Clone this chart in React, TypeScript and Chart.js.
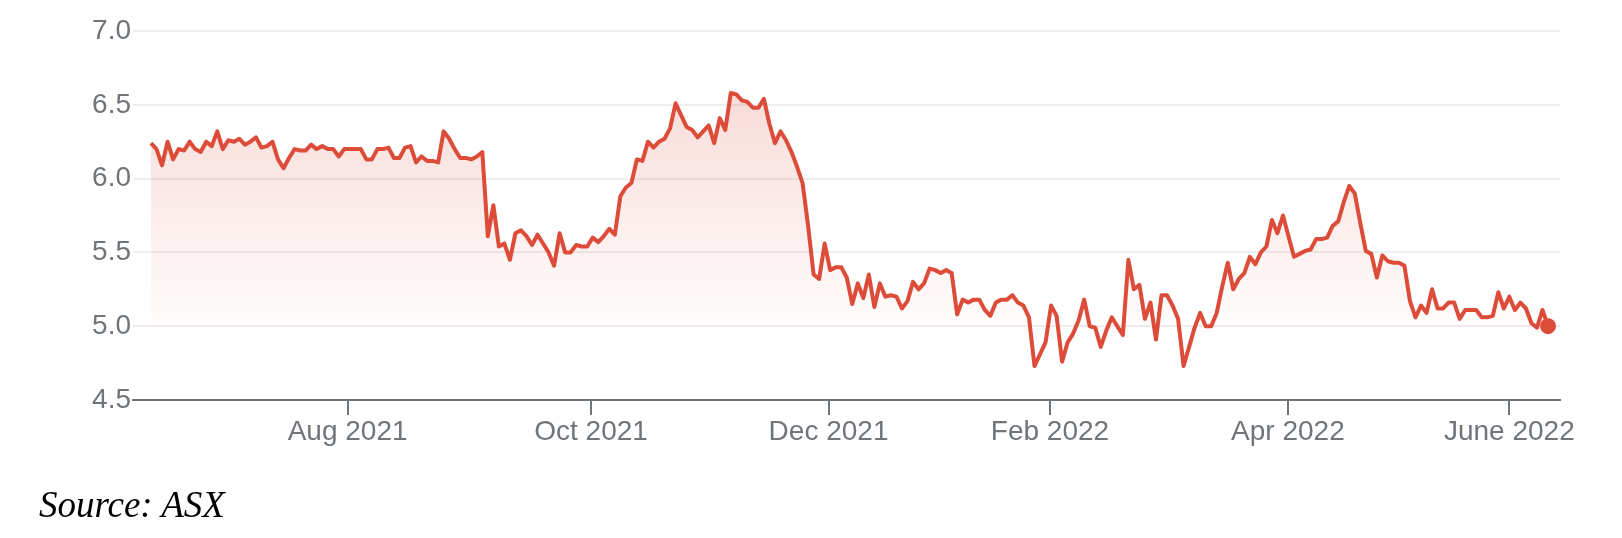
import React, { useEffect, useRef } from "react";
import { Chart, registerables } from "chart.js";

Chart.register(...registerables);

// Daily closing prices (trading days), mid-June 2021 to mid-June 2022
const prices: number[] = [
  6.24, 6.20, 6.09, 6.25, 6.13, 6.20, 6.19, 6.25, 6.20, 6.18,
  6.25, 6.22, 6.32, 6.20, 6.26, 6.25, 6.27, 6.23, 6.25, 6.28,
  6.21, 6.22, 6.25, 6.13, 6.07, 6.14, 6.20, 6.19, 6.19, 6.23,
  6.20, 6.22, 6.20, 6.20, 6.15, 6.20, 6.20, 6.20, 6.20, 6.13,
  6.13, 6.20, 6.20, 6.21, 6.14, 6.14, 6.21, 6.22, 6.11, 6.15,
  6.12, 6.12, 6.11, 6.32, 6.27, 6.20, 6.14, 6.14, 6.13, 6.15,
  6.18, 5.61,
  5.82, 5.54, 5.56, 5.45, 5.63, 5.65, 5.61, 5.55, 5.62, 5.56,
  5.50, 5.41, 5.63, 5.50, 5.50, 5.55, 5.54, 5.54, 5.60, 5.57,
  5.61, 5.66, 5.62, 5.88, 5.94, 5.97, 6.13, 6.12, 6.25, 6.21,
  6.25, 6.27, 6.34, 6.51, 6.43, 6.35, 6.33, 6.28, 6.32, 6.36,
  6.24, 6.41, 6.33, 6.58, 6.57, 6.53, 6.52, 6.48, 6.48, 6.54,
  6.37, 6.24, 6.32, 6.26, 6.18, 6.08, 5.97, 5.68, 5.35, 5.32,
  5.56,
  5.38, 5.40, 5.40, 5.33, 5.15, 5.29, 5.19, 5.35, 5.13, 5.29,
  5.20, 5.21, 5.20, 5.12, 5.17, 5.30, 5.25, 5.29, 5.39, 5.38,
  5.36, 5.38, 5.36, 5.08, 5.18, 5.16, 5.18, 5.18, 5.11, 5.07,
  5.16, 5.18, 5.18, 5.21, 5.16, 5.14, 5.06, 4.73, 4.81, 4.89,
  5.14, 5.07, 4.76, 4.89, 4.95, 5.04, 5.18, 5.00, 4.99, 4.86,
  4.97, 5.06, 5.00, 4.94, 5.45, 5.25, 5.28, 5.05, 5.16, 4.91,
  5.21, 5.21, 5.14, 5.05, 4.73,
  4.86, 4.99, 5.09, 5.00, 5.00, 5.09, 5.27, 5.43, 5.25, 5.32,
  5.36, 5.47, 5.42, 5.50, 5.54, 5.72, 5.63, 5.75, 5.61, 5.47,
  5.49, 5.51, 5.52, 5.59, 5.59, 5.60, 5.68, 5.71, 5.84, 5.95,
  5.90, 5.70, 5.51, 5.49, 5.33, 5.48, 5.44, 5.43, 5.43, 5.41,
  5.17, 5.06, 5.14, 5.09, 5.25, 5.12, 5.12, 5.16, 5.16, 5.05,
  5.11, 5.11, 5.11, 5.06, 5.06, 5.07, 5.23, 5.12, 5.20, 5.11,
  5.16, 5.12, 5.02, 4.99, 5.11, 5.00,
];

// Month ticks: position in trading-day index and label
const monthTickIndex: number[] = [35.6, 79.7, 122.7, 162.8, 205.9, 246.0];
const monthTickLabels: string[] = ["Aug 2021", "Oct 2021", "Dec 2021", "Feb 2022", "Apr 2022", "June 2022"];

const yTicks: number[] = [4.5, 5.0, 5.5, 6.0, 6.5, 7.0];

const LINE = "#dd4b39";
const AXIS_GREY = "#70757a";
const FONT = "'Liberation Sans', Arial, Helvetica, sans-serif";

export default function App() {
  const canvasRef = useRef<HTMLCanvasElement | null>(null);

  useEffect(() => {
    const canvas = canvasRef.current;
    if (!canvas) return;
    const points = prices.map((p, i) => ({ x: i, y: p }));
    const last = prices.length - 1;

    const chart = new Chart(canvas, {
      type: "line",
      data: {
        datasets: [
          {
            data: points,
            borderColor: LINE,
            borderWidth: 4,
            tension: 0,
            borderJoinStyle: "round",
            fill: "start",
            backgroundColor: (ctx: any) => {
              const { chart } = ctx;
              const area = chart.chartArea;
              if (!area) return "rgba(221,75,57,0.1)";
              const g = chart.ctx.createLinearGradient(0, area.top, 0, area.bottom);
              g.addColorStop(0, "rgba(221,75,57,0.24)");
              g.addColorStop(0.85, "rgba(221,75,57,0)");
              g.addColorStop(1, "rgba(221,75,57,0)");
              return g;
            },
            pointRadius: (ctx: any) => (ctx.dataIndex === last ? 8 : 0),
            pointHoverRadius: 0,
            pointBackgroundColor: LINE,
            pointBorderColor: LINE,
            pointBorderWidth: 0,
          },
        ],
      },
      options: {
        responsive: false,
        animation: false,
        devicePixelRatio: 1,
        layout: { padding: { left: 0, right: 62, top: 31, bottom: 0 } },
        plugins: {
          legend: { display: false },
          tooltip: { enabled: false },
        },
        scales: {
          x: {
            type: "linear",
            min: -3.26,
            max: 255.17,
            afterFit: (scale: any) => {
              scale.height = 138;
            },
            afterBuildTicks: (scale: any) => {
              scale.ticks = monthTickIndex.map((v) => ({ value: v }));
            },
            ticks: {
              autoSkip: false,
              maxRotation: 0,
              padding: 0,
              color: AXIS_GREY,
              font: { family: FONT, size: 28 },
              callback: (value: any) => {
                const i = monthTickIndex.findIndex((v) => Math.abs(v - Number(value)) < 0.01);
                return i >= 0 ? monthTickLabels[i] : "";
              },
            },
            grid: {
              display: true,
              drawOnChartArea: false,
              drawTicks: true,
              tickLength: 15,
              color: AXIS_GREY,
              lineWidth: 2,
            },
            border: { display: true, color: AXIS_GREY, width: 2 },
          },
          y: {
            min: 4.5,
            max: 7.0,
            afterFit: (scale: any) => {
              scale.width = 133;
            },
            afterBuildTicks: (scale: any) => {
              scale.ticks = yTicks.map((v) => ({ value: v }));
            },
            ticks: {
              padding: 2,
              color: AXIS_GREY,
              font: { family: FONT, size: 28 },
              callback: (value: any) => Number(value).toFixed(1),
            },
            grid: {
              color: "#eeeeee",
              lineWidth: 2,
              drawTicks: false,
            },
            border: { display: false },
          },
        },
      },
    } as any);

    return () => {
      chart.destroy();
    };
  }, []);

  return (
    <div style={{ position: "absolute", left: 0, top: 0, width: 1622, height: 538, background: "#ffffff" }}>
      <canvas ref={canvasRef} width={1622} height={538} style={{ display: "block", width: 1622, height: 538 }} />
      <div
        style={{
          position: "absolute",
          left: 39,
          top: 486,
          fontFamily: "'Liberation Serif', 'Times New Roman', serif",
          fontStyle: "italic",
          fontSize: 37,
          lineHeight: "37px",
          color: "#000000",
          whiteSpace: "nowrap",
        }}
      >
        Source: ASX
      </div>
    </div>
  );
}
